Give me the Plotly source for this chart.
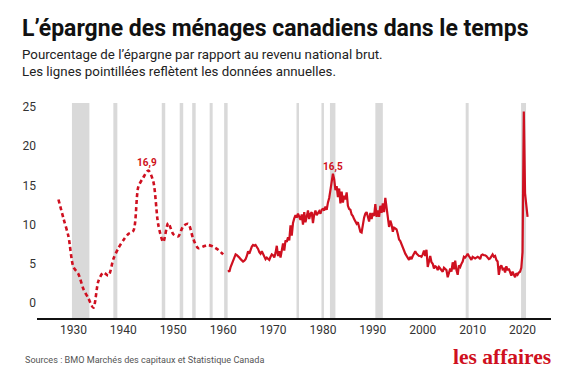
import plotly.graph_objects as go

# ---- data ----
annual_years = list(range(1927, 1961))
annual_values = [13.2, 10.8, 8.5, 4.6, 3.7, 1.8, 0.6, -0.6, 2.8, 3.9,
                 3.5, 5.6, 7.0, 8.0, 8.8, 9.2, 14.8, 16.0, 16.9, 15.5,
                 10.0, 7.8, 10.2, 8.8, 8.5, 9.8, 10.1, 8.2, 7.0, 7.2,
                 7.4, 7.2, 6.8, 6.2]

quarterly_values = [
    4.2, 4.0, 4.6, 5.0,      # 1961
    5.5, 6.0, 6.2, 6.1,      # 1962
    6.0, 5.8, 5.6, 5.5,      # 1963
    5.3, 5.4, 5.6, 6.0,      # 1964
    6.6, 6.3, 6.9, 7.2,      # 1965
    7.4, 7.3, 7.4, 7.2,      # 1966
    6.9, 6.5, 6.3, 6.6,      # 1967
    6.2, 5.9, 5.6, 5.8,      # 1968
    5.6, 5.5, 5.9, 6.2,      # 1969
    6.1, 5.8, 6.4, 7.3,      # 1970
    6.0, 6.6, 5.8, 6.8,      # 1971
    7.6, 6.7, 8.0, 7.8,      # 1972
    8.4, 8.0, 9.9, 8.6,      # 1973
    10.2, 10.8, 11.2, 10.9,  # 1974
    11.4, 11.0, 10.6, 11.3,  # 1975
    10.0, 11.6, 10.3, 11.0,  # 1976
    11.8, 10.7, 11.4, 11.6,  # 1977
    10.2, 11.3, 11.8, 11.2,  # 1978
    11.4, 11.7, 11.4, 11.9,  # 1979
    12.0, 11.8, 12.3, 11.9,  # 1980
    12.8, 13.4, 14.4, 15.5,  # 1981
    16.5, 15.8, 14.4, 14.9,  # 1982
    13.5, 14.6, 12.7, 14.2,  # 1983
    12.8, 13.7, 13.2, 14.1,  # 1984
    12.4, 12.0, 11.9, 11.3,  # 1985
    11.1, 10.7, 10.4, 10.1,  # 1986
    10.3, 9.6, 9.1, 9.0,     # 1987
    10.2, 10.9, 11.4, 11.6,  # 1988
    11.0, 10.4, 11.5, 10.7,  # 1989
    11.5, 11.1, 12.6, 11.0,  # 1990
    11.8, 11.0, 12.4, 11.5,  # 1991
    12.7, 11.6, 13.4, 12.2,  # 1992
    10.9, 9.7, 10.5, 10.0,   # 1993
    9.1, 9.6, 9.5, 9.4,      # 1994
    8.8, 8.1, 7.9, 7.4,      # 1995
    7.2, 6.7, 6.3, 6.0,      # 1996
    5.8, 5.5, 5.9, 5.6,      # 1997
    6.0, 6.4, 6.6, 6.3,      # 1998
    6.1, 6.0, 6.0, 5.9,      # 1999
    6.2, 6.7, 6.0, 6.8,      # 2000
    4.6, 5.3, 6.0, 5.2,      # 2001
    5.0, 4.4, 4.7, 4.6,      # 2002
    4.2, 4.6, 4.4, 4.3,      # 2003
    4.0, 4.5, 4.4, 4.2,      # 2004
    3.3, 3.9, 4.4, 4.0,      # 2005
    5.2, 4.3, 5.4, 4.2,      # 2006
    3.6, 4.8, 4.6, 5.0,      # 2007
    5.3, 5.9, 5.8, 6.0,      # 2008
    6.3, 6.0, 5.7, 5.5,      # 2009
    5.9, 5.8, 5.7, 5.8,      # 2010
    5.9, 5.8, 5.6, 6.1,      # 2011
    6.2, 6.1, 6.1, 6.0,      # 2012
    5.8, 5.6, 5.7, 5.9,      # 2013
    6.2, 5.9, 6.0, 5.5,      # 2014
    5.3, 3.6, 4.6, 4.8,      # 2015
    4.3, 4.4, 3.9, 4.7,      # 2016
    4.2, 4.4, 4.0, 3.5,      # 2017
    4.0, 3.7, 3.3, 3.8,      # 2018
    3.6, 3.9, 4.0, 4.5,      # 2019
    6.5, 24.4, 14.0, 12.5,   # 2020
    11.0,                    # 2021
]
quarterly_start = 1961.0

recessions = [(1929.7, 1933.2), (1938.0, 1938.8), (1947.7, 1948.4),
              (1951.3, 1952.0), (1953.8, 1954.5), (1957.3, 1957.9),
              (1960.2, 1960.9), (1974.7, 1975.2), (1979.7, 1980.2),
              (1981.4, 1982.5), (1990.5, 1992.0), (2008.6, 2009.2),
              (2019.7, 2020.7)]

peak_labels = [(1944.7, 16.9, "16,9"), (1982.0, 16.5, "16,5")]

x_ticks = [1930, 1940, 1950, 1960, 1970, 1980, 1990, 2000, 2010, 2020]
y_ticks = [0, 5, 10, 15, 20, 25]

title = "L’épargne des ménages canadiens dans le temps"
subtitle = ("Pourcentage de l’épargne par rapport au revenu national brut.<br>"
            "Les lignes pointillées reflètent les données annuelles.")
source = "Sources : BMO Marchés des capitaux et Statistique Canada"
logo = "les affaires"

RED = "#cf1020"

quarter_x = [quarterly_start + 0.25 * i for i in range(len(quarterly_values))]

fig = go.Figure()
fig.add_trace(go.Scatter(x=annual_years, y=annual_values, mode="lines",
                         line=dict(color=RED, width=2.6, dash="4px,3px", shape="spline", smoothing=0.8),
                         hoverinfo="skip", showlegend=False))
fig.add_trace(go.Scatter(x=quarter_x, y=quarterly_values, mode="lines",
                         line=dict(color=RED, width=2.2),
                         hoverinfo="skip", showlegend=False))

for a, b in recessions:
    fig.add_shape(type="rect", xref="x", yref="paper", x0=a, x1=b, y0=0, y1=1,
                  fillcolor="#d9d9d9", line=dict(width=0), layer="below")

for x, y, t in peak_labels:
    fig.add_annotation(x=x, y=y, text="<b>%s</b>" % t, showarrow=False,
                       yanchor="bottom", yshift=-1,
                       font=dict(family="Roboto", size=10, color=RED))

L, R, T, B = 37, 19, 103, 62
W, H = 570, 380
pw, ph = W - L - R, H - T - B

def px(x):
    return (x - L) / pw

def py(y):
    return (H - B - y) / ph

fig.add_annotation(xref="paper", yref="paper", x=px(20), y=py(13), xanchor="left", yanchor="top",
                   text="<b>%s</b>" % title, showarrow=False,
                   font=dict(family="Roboto", size=23, color="#111"))
fig.add_annotation(xref="paper", yref="paper", x=px(20), y=py(45), xanchor="left", yanchor="top",
                   text=subtitle, showarrow=False, align="left",
                   font=dict(family="Roboto", size=13.3, color="#222"))
fig.add_annotation(xref="paper", yref="paper", x=px(23), y=py(360), xanchor="left", yanchor="middle",
                   text=source, showarrow=False,
                   font=dict(family="Roboto", size=9.1, color="#555"))
fig.add_annotation(xref="paper", yref="paper", x=px(553), y=py(357), xanchor="right", yanchor="middle",
                   text="<b>%s</b>" % logo, showarrow=False,
                   font=dict(family="Liberation Serif", size=21.5, color=RED))

fig.update_layout(
    width=W, height=H,
    margin=dict(l=L, r=R, t=T, b=B),
    paper_bgcolor="white", plot_bgcolor="white",
    font=dict(family="Roboto", color="#333", size=12),
    xaxis=dict(range=[1922.7, 2025.7], tickvals=x_ticks, showgrid=False, zeroline=False,
               showline=True, linecolor="#111", linewidth=1.5, ticks="", fixedrange=True,
               tickfont=dict(size=12, color="#333")),
    yaxis=dict(range=[-1.9, 25.5], tickvals=y_ticks, showgrid=False, zeroline=False,
               showline=False, ticks="", fixedrange=True,
               tickfont=dict(size=12, color="#333")),
)

fig.write_html("out.html", config={"displayModeBar": False},
               post_script="document.body.style.margin='0';document.body.style.padding='0';")
